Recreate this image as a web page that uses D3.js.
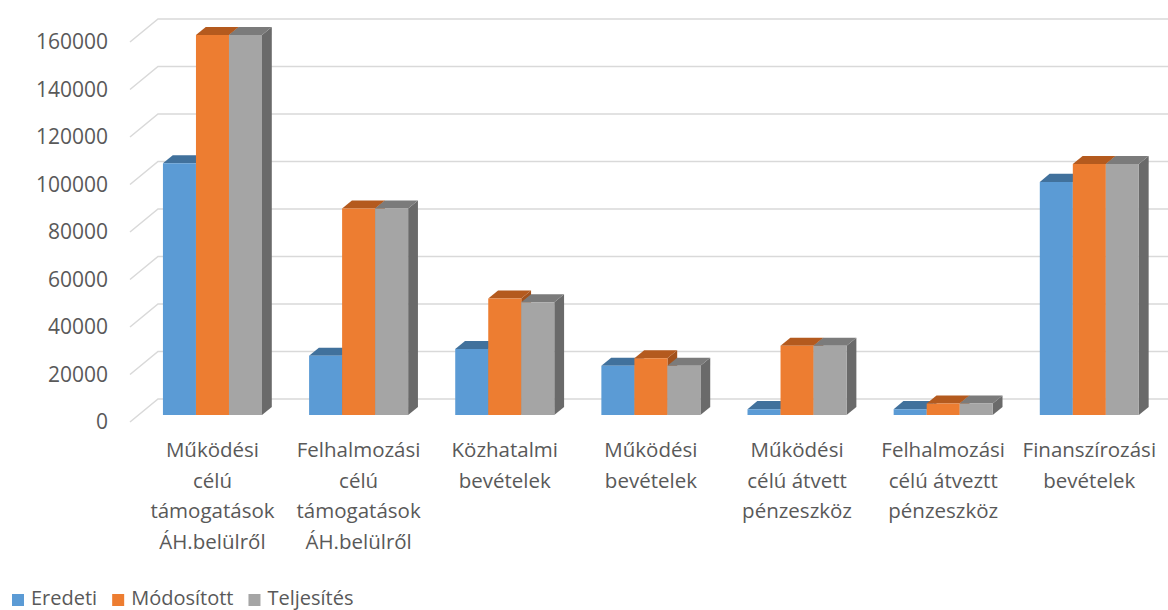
<!DOCTYPE html>
<html>
<head>
<meta charset="utf-8">
<script src="https://cdn.jsdelivr.net/npm/d3@7"></script>
<style>
  body { margin: 0; background: #fff; }
  svg text { font-family: "Open Sans", sans-serif; fill: #595959; }
</style>
</head>
<body>
<script>
var svgWidth = 1168;
var svgHeight = 610;

// categories (line breaks as in the picture)
var categories = [
  "Működési\ncélú\ntámogatások\nÁH.belülről",
  "Felhalmozási\ncélú\ntámogatások\nÁH.belülről",
  "Közhatalmi\nbevételek",
  "Működési\nbevételek",
  "Működési\ncélú átvett\npénzeszköz",
  "Felhalmozási\ncélú átveztt\npénzeszköz",
  "Finanszírozási\nbevételek"
];

var seriesNames = ["Eredeti", "Módosított", "Teljesítés"];
var eredeti    = [106000, 25000, 27800, 20800, 2500, 2500, 98200];
var modositott = [160000, 87000, 49100, 23900, 29200, 4900, 105700];
var teljesites = [160000, 87000, 47500, 20800, 29200, 4900, 105700];
var yTicks = [0, 20000, 40000, 60000, 80000, 100000, 120000, 140000, 160000];

var seriesValues = [eredeti, modositott, teljesites];

var colors = {
  front: ["#5b9bd5", "#ed7d31", "#a5a5a5"],
  top:   ["#41719c", "#b45a1e", "#7b7b7b"],
  side:  ["#3d6a93", "#a3521c", "#6a6a6a"]
};

var svg = d3.select("body")
  .append("svg")
  .attr("width", svgWidth)
  .attr("height", svgHeight);

// 3D-ish projection: floor front edge, depth vector to back wall
var depthX = 28, depthY = -23;
var barDepthFront = 0.3, barDepthBack = 0.65;

var xScale = d3.scaleBand()
  .domain(d3.range(categories.length))
  .range([131, 1154]);

var xSeries = d3.scaleBand()
  .domain(d3.range(seriesNames.length))
  .range([0, xScale.step()])
  .paddingOuter(0.713);

var yScale = d3.scaleLinear()
  .domain([0, 160000])
  .range([422, 42]);

function proj(x, v, depth) {
  return [x + depthX * depth, yScale(v) + depthY * depth];
}

// gridlines: side segment + back wall line
var grid = svg.append("g");
yTicks.forEach(function(t) {
  var a = proj(130, t, 0);
  var b = proj(130, t, 1);
  grid.append("path")
    .attr("d", d3.line()([a, b, [svgWidth, b[1]]]))
    .attr("fill", "none")
    .attr("stroke", "#d9d9d9")
    .attr("stroke-width", 1.5);
});

// y axis labels
svg.append("g").selectAll("text")
  .data(yTicks)
  .enter()
  .append("text")
  .attr("x", 108)
  .attr("y", d => yScale(d) + 7)
  .attr("text-anchor", "end")
  .style("font-size", "21px")
  .text(d => d);

// bars
var bars = svg.append("g");
categories.forEach(function(c, i) {
  seriesValues.forEach(function(vals, s) {
    var v = vals[i];
    var x0 = xScale(i) + xSeries(s);
    var x1 = x0 + xSeries.bandwidth();
    var f0 = proj(x0, 0, barDepthFront), f1 = proj(x1, 0, barDepthFront);
    var ft0 = proj(x0, v, barDepthFront), ft1 = proj(x1, v, barDepthFront);
    var bt0 = proj(x0, v, barDepthBack), bt1 = proj(x1, v, barDepthBack);
    var b1 = proj(x1, 0, barDepthBack);
    // side face
    bars.append("path")
      .attr("d", d3.line()([f1, ft1, bt1, b1]) + "Z")
      .attr("fill", colors.side[s]);
    // top face
    bars.append("path")
      .attr("d", d3.line()([ft0, ft1, bt1, bt0]) + "Z")
      .attr("fill", colors.top[s]);
    // front face
    bars.append("path")
      .attr("d", d3.line()([f0, f1, ft1, ft0]) + "Z")
      .attr("fill", colors.front[s]);
  });
});

// category labels
var catLabels = svg.append("g").selectAll("text")
  .data(categories)
  .enter()
  .append("text")
  .attr("text-anchor", "middle")
  .style("font-size", "20.5px");

catLabels.each(function(d, i) {
  var cx = proj(xScale(i) + xScale.step() / 2, 0, barDepthFront)[0];
  d3.select(this).selectAll("tspan")
    .data(d.split("\n"))
    .enter()
    .append("tspan")
    .attr("x", cx)
    .attr("y", (line, k) => 457 + k * 30.5)
    .text(line => line);
});

// legend
var legend = svg.append("g");
var lx = 12;
seriesNames.forEach(function(name, s) {
  legend.append("rect")
    .attr("x", lx)
    .attr("y", 594)
    .attr("width", 12)
    .attr("height", 12)
    .attr("fill", colors.front[s]);
  var t = legend.append("text")
    .attr("x", lx + 19)
    .attr("y", 605)
    .style("font-size", "20px")
    .text(name);
  lx += 19 + t.node().getComputedTextLength() + 15;
});
</script>
</body>
</html>
